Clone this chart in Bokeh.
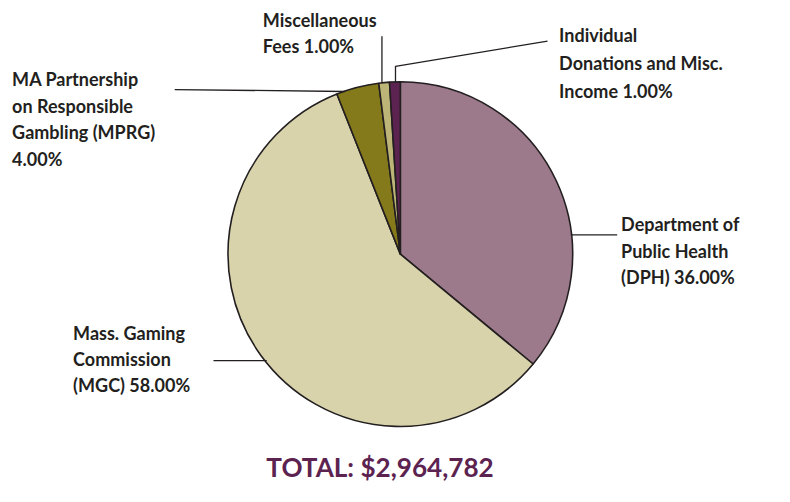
import math
from bokeh.plotting import figure
from bokeh.models import Range1d, ColumnDataSource
from bokeh.core.properties import value
from bokeh.embed import file_html
from bokeh.resources import INLINE

# ---- data ----
categories = [
    "Department of\nPublic Health\n(DPH)",
    "Mass. Gaming\nCommission\n(MGC)",
    "MA Partnership\non Responsible\nGambling (MPRG)\n",
    "Miscellaneous\nFees",
    "Individual\nDonations and Misc.\nIncome",
]
shares = [36.0, 58.0, 4.0, 1.0, 1.0]
colors = ["#9c7a8b", "#d8d3ab", "#857a1b", "#bdb577", "#5c2350"]
total_text = "TOTAL: $2,964,782"

# ---- layout (reference pixel coords 790x502, y from top) ----
W, H = 774, 486
S = H / 502.0  # uniform scale from reference pixels to figure pixels
cx, cy, r = 413, 262, 178
# label anchor: (x, first line centre, line spacing)
label_pos = [(641, 231, 27.5), (75, 343, 27), (12, 81, 27.5), (271, 20, 27), (577, 36, 28.5)]
leaders = [
    [(589, 242), (637, 242)],
    [(220, 372), (275, 372)],
    [(180, 92), (356, 94)],
    [(394, 37), (394, 85)],
    [(408, 85), (408, 68), (565, 42)],
]

def Y(sy):
    return 502 - sy

def fs(px):
    return f"{px * S:.1f}px"

p = figure(width=W, height=H, output_backend="svg", toolbar_location=None,
           x_range=Range1d(0, W / S), y_range=Range1d(0, 502),
           min_border=0)
p.axis.visible = False
p.grid.visible = False
p.outline_line_color = None
p.background_fill_color = "white"

# wedges: start at top, clockwise
tot = sum(shares)
starts, ends = [], []
cum = 0.0
for s in shares:
    a0 = math.pi / 2 - (cum + s) / tot * 2 * math.pi
    a1 = math.pi / 2 - cum / tot * 2 * math.pi
    starts.append(a0)
    ends.append(a1)
    cum += s

src = ColumnDataSource(dict(start=starts, end=ends, color=colors))
p.wedge(x=cx, y=Y(cy), radius=r, start_angle="start", end_angle="end",
        fill_color="color", line_color="#231f20", line_width=1.6, source=src)

# leader lines
for pts in leaders:
    p.line([q[0] for q in pts], [Y(q[1]) for q in pts], line_color="#231f20", line_width=1.3)

# labels
xs, ys, ts = [], [], []
for cat, s, (lx, ly, dy) in zip(categories, shares, label_pos):
    lines = cat.split("\n")
    if lines[-1] == "":
        lines[-1] = f"{s:.2f}%"
    else:
        lines[-1] = lines[-1] + f" {s:.2f}%"
    for i, l in enumerate(lines):
        xs.append(lx)
        ys.append(Y(ly + i * dy))
        ts.append(l)

p.text(x=xs, y=ys, text=ts, text_font=value("Lato"), text_font_style="bold",
       text_font_size=fs(18.6), text_color="#231f20", text_baseline="middle",
       text_align="left")

p.text(x=[392], y=[Y(482)], text=[total_text], text_font=value("Lato"),
       text_font_style="bold", text_font_size=fs(27), text_color="#5c2350",
       text_baseline="middle", text_align="center")

open("out.html", "w").write(file_html(p, INLINE))
